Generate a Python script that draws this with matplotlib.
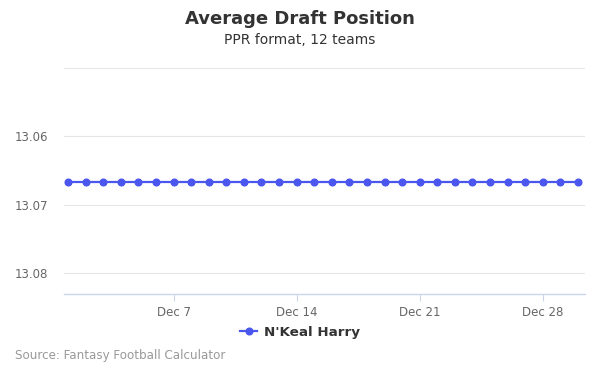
import matplotlib
matplotlib.use("Agg")
import matplotlib.pyplot as plt
import matplotlib.dates as mdates
import numpy as np
import datetime as dt

# data: ADP per day, Dec 1 - Dec 30
dates = [dt.date(2019, 12, d) for d in range(1, 31)]
adp = [13.0667] * 30
player = "N'Keal Harry"

ytick_vals = [13.05, 13.06, 13.07, 13.08]
ytick_labels = ["", "13.06", "13.07", "13.08"]
xtick_dates = [dt.date(2019, 12, d) for d in (7, 14, 21, 28)]
xtick_labels = ["Dec 7", "Dec 14", "Dec 21", "Dec 28"]

line_color = "#4b56ef"

fig = plt.figure(figsize=(6, 3.75), dpi=100)
ax = fig.add_axes([0.1067, 0.216, 0.8683, 0.6027])

ax.plot(dates, adp, color=line_color, lw=1.6, marker="o", markersize=4.8,
        label=player, zorder=3)

ax.set_ylim(13.0831, 13.05)
ax.set_yticks(ytick_vals)
ax.set_yticklabels(ytick_labels)
ax.grid(axis="y", color="#e6e6e6", lw=0.8)
ax.set_axisbelow(True)

x0 = mdates.date2num(dt.datetime(2019, 12, 1)) - 0.23
x1 = mdates.date2num(dt.datetime(2019, 12, 30)) + 0.4
ax.set_xlim(x0, x1)
ax.set_xticks(xtick_dates)
ax.set_xticklabels(xtick_labels)

for s in ("top", "right", "left"):
    ax.spines[s].set_visible(False)
ax.spines["bottom"].set_color("#ccd6eb")
ax.spines["bottom"].set_linewidth(1)

ax.tick_params(axis="y", length=0, pad=11.5, labelsize=8.5, labelcolor="#666666")
ax.tick_params(axis="x", length=5, width=0.8, color="#ccd6eb", pad=4,
               labelsize=8.5, labelcolor="#666666")

fig.text(0.5, 0.949, "Average Draft Position", ha="center", va="center",
         fontsize=13, fontweight="bold", color="#333333")
fig.text(0.5, 0.893, "PPR format, 12 teams", ha="center", va="center",
         fontsize=10, color="#333333")

leg = fig.legend(loc="center", bbox_to_anchor=(0.5, 0.113), frameon=False,
                 handlelength=1.3, handletextpad=0.5,
                 prop={"weight": "bold", "size": 9.7})
for t in leg.get_texts():
    t.set_color("#333333")

fig.text(0.025, 0.051, "Source: Fantasy Football Calculator", ha="left",
         va="center", fontsize=8.6, color="#999999")

fig.savefig("out.png", dpi=100)
